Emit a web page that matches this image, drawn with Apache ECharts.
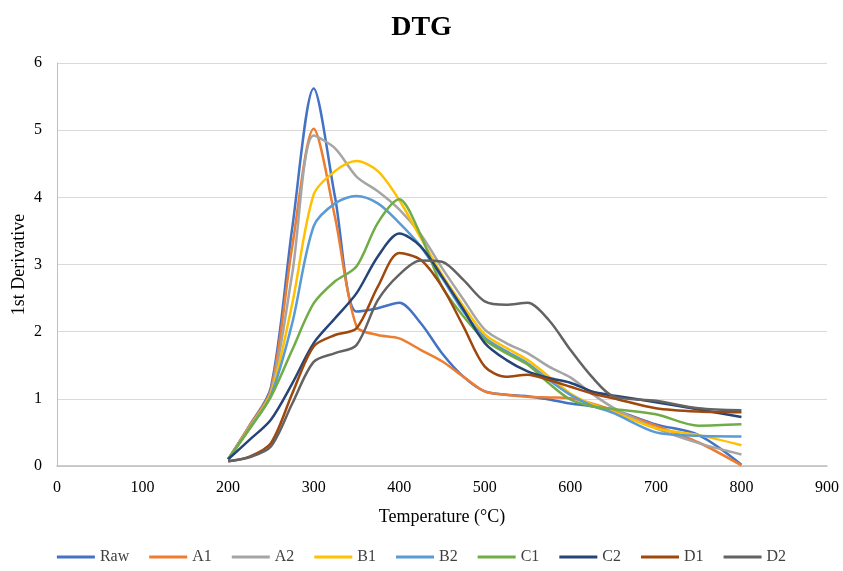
<!DOCTYPE html>
<html>
<head>
<meta charset="utf-8" />
<title>DTG</title>
<script src="https://cdn.jsdelivr.net/npm/echarts@6/dist/echarts.min.js"></script>
<style>
    html, body { margin: 0; padding: 0; background: #fff; }
    #main { width: 843px; height: 571px; }
</style>
</head>
<body>
<div id="main"></div>
<script type="text/javascript">
// temperatures (°C)
var temps = [200, 225, 250, 275, 300, 325, 350, 375, 400, 425, 450, 475, 500, 525, 550, 575, 600, 625, 650, 700, 750, 800];

// 1st derivative values
var raw = [0.10, 0.60, 1.17, 3.55, 5.62, 4.00, 2.30, 2.35, 2.43, 2.13, 1.68, 1.33, 1.11, 1.06, 1.04, 0.99, 0.93, 0.89, 0.84, 0.62, 0.46, 0.02];
var a1 = [0.10, 0.60, 1.13, 3.27, 5.02, 3.70, 2.08, 1.95, 1.90, 1.73, 1.56, 1.33, 1.11, 1.06, 1.03, 1.02, 1.01, 0.93, 0.83, 0.60, 0.35, 0.01];
var a2 = [0.10, 0.58, 1.10, 2.87, 4.92, 4.73, 4.31, 4.09, 3.82, 3.45, 2.95, 2.48, 2.03, 1.83, 1.68, 1.48, 1.32, 1.08, 0.87, 0.56, 0.34, 0.17];
var b1 = [0.10, 0.57, 1.08, 2.42, 4.04, 4.39, 4.54, 4.39, 3.96, 3.40, 2.85, 2.38, 1.96, 1.76, 1.58, 1.33, 1.08, 0.92, 0.81, 0.56, 0.46, 0.31];
var b2 = [0.10, 0.56, 1.05, 2.13, 3.57, 3.91, 4.02, 3.91, 3.62, 3.27, 2.80, 2.30, 1.91, 1.71, 1.53, 1.28, 1.06, 0.90, 0.79, 0.50, 0.45, 0.44];
var c1 = [0.10, 0.55, 1.03, 1.73, 2.42, 2.75, 2.97, 3.62, 3.97, 3.44, 2.67, 2.23, 1.88, 1.68, 1.51, 1.23, 0.99, 0.89, 0.85, 0.77, 0.60, 0.62];
var c2 = [0.10, 0.39, 0.69, 1.23, 1.83, 2.20, 2.57, 3.12, 3.46, 3.27, 2.82, 2.33, 1.83, 1.58, 1.41, 1.31, 1.24, 1.11, 1.05, 0.95, 0.84, 0.73];
var d1 = [0.07, 0.14, 0.34, 1.08, 1.78, 1.95, 2.05, 2.67, 3.17, 3.07, 2.67, 2.08, 1.48, 1.33, 1.36, 1.28, 1.18, 1.08, 1.01, 0.86, 0.81, 0.80];
var d2 = [0.07, 0.13, 0.29, 0.93, 1.55, 1.68, 1.80, 2.47, 2.85, 3.06, 3.04, 2.77, 2.45, 2.40, 2.43, 2.17, 1.73, 1.33, 1.04, 0.97, 0.86, 0.83];

var names = ["Raw", "A1", "A2", "B1", "B2", "C1", "C2", "D1", "D2"];
var values = [raw, a1, a2, b1, b2, c1, c2, d1, d2];
var colors = ["#4472C4", "#ED7D31", "#A5A5A5", "#FFC000", "#5B9BD5", "#70AD47", "#264478", "#9E480E", "#636363"];

var font = "Liberation Serif";

function pairs(arr) {
    var out = [];
    for (var i = 0; i < temps.length; i++) {
        out.push([temps[i], arr[i]]);
    }
    return out;
}

var series = [];
for (var i = 0; i < names.length; i++) {
    series.push({
        name: names[i],
        type: "line",
        smooth: 0.3,
        showSymbol: false,
        data: pairs(values[i]),
        lineStyle: { width: 2.5, color: colors[i] },
        itemStyle: { color: colors[i] }
    });
}

var chart = echarts.init(document.getElementById("main"));
var option = {
    animation: false,
    backgroundColor: "#fff",
    title: {
        text: "DTG",
        left: "center",
        top: 9,
        textStyle: { fontFamily: font, fontSize: 28, fontWeight: "bold", color: "#000" }
    },
    grid: { left: 57, right: 16, top: 63, bottom: 105, containLabel: false, outerBoundsMode: "none" },
    legend: {
        bottom: 1,
        left: "center",
        icon: "rect",
        itemWidth: 38,
        itemHeight: 3,
        itemGap: 20,
        textStyle: { fontFamily: font, fontSize: 16, color: "#404040" },
        data: names
    },
    xAxis: {
        type: "value",
        min: 0,
        max: 900,
        interval: 100,
        name: "Temperature (°C)",
        nameLocation: "middle",
        nameGap: 42,
        nameMoveOverlap: false,
        nameTextStyle: { fontFamily: font, fontSize: 18, color: "#000" },
        axisLine: { lineStyle: { color: "#BFBFBF", width: 1.5 } },
        axisTick: { show: false },
        axisLabel: { fontFamily: font, fontSize: 16, color: "#000", margin: 14 },
        splitLine: { show: false }
    },
    yAxis: {
        type: "value",
        min: 0,
        max: 6,
        interval: 1,
        name: "1st Derivative",
        nameLocation: "middle",
        nameGap: 29,
        nameMoveOverlap: false,
        nameTextStyle: { fontFamily: font, fontSize: 18, color: "#000" },
        axisLine: { show: true, lineStyle: { color: "#BFBFBF", width: 1 } },
        axisTick: { show: false },
        axisLabel: { fontFamily: font, fontSize: 16, color: "#000", margin: 15 },
        splitLine: { lineStyle: { color: "#D9D9D9", width: 1 } }
    },
    series: series
};
chart.setOption(option);
</script>
</body>
</html>
